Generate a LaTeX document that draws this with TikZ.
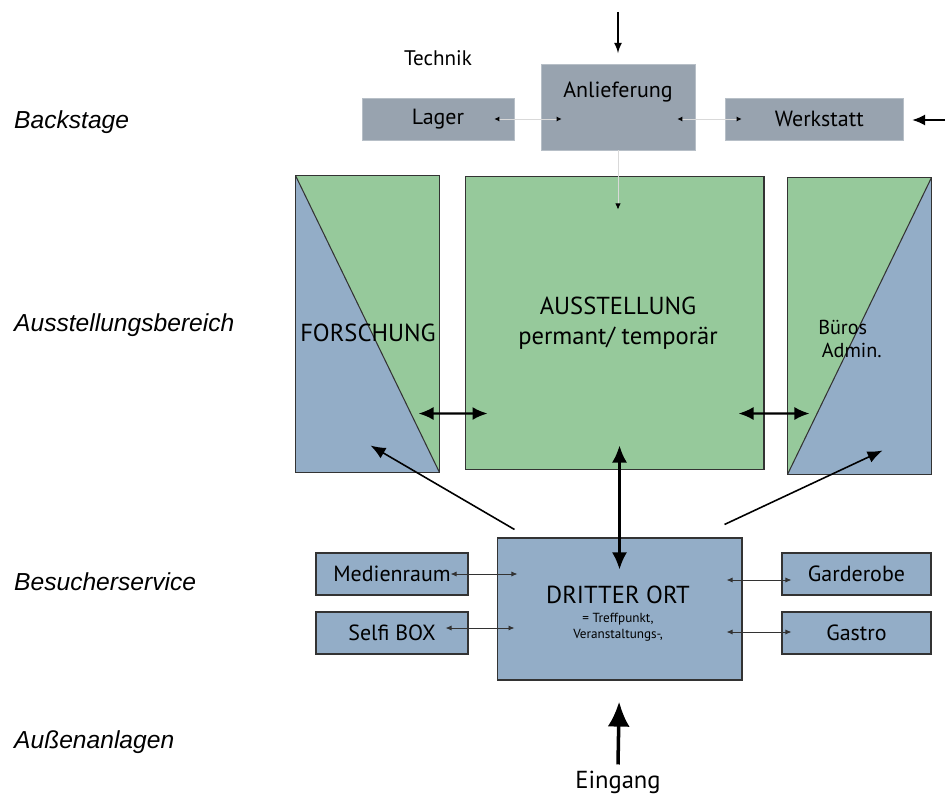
\documentclass[tikz,border=0pt]{standalone}
\usepackage{fontspec}
\setmainfont{PT Sans}
\newfontfamily\labelfont{Liberation Sans}
\usetikzlibrary{arrows.meta,positioning}
\tikzset{>=latex}

\definecolor{roomgreen}{HTML}{96C99B}
\definecolor{roomblue}{HTML}{93ADC7}
\definecolor{backgrey}{HTML}{98A3AF}

\tikzset{
    zone/.style={font=\labelfont\itshape\fontsize{14}{16}\selectfont, anchor=west},
    greybox/.style={draw=backgrey!70!white, fill=backgrey, line width=0.4pt,
        minimum height=0.84cm, font=\fontsize{12.5}{14}\selectfont},
    bluebox/.style={draw=black!80, fill=roomblue, line width=0.6pt,
        minimum height=0.84cm, font=\fontsize{12.5}{14}\selectfont},
    room/.style={draw=black!80, line width=0.6pt, minimum width=2.86cm, minimum height=5.92cm},
    thinlink/.style={black!15, line width=0.5pt, {Latex[length=1mm,width=1mm,black]}-{Latex[length=1mm,width=1mm,black]}},
    visitlink/.style={black!80, line width=0.5pt, {Latex[length=1.2mm,width=1mm]}-{Latex[length=1.2mm,width=1mm]}},
    roomlink/.style={black, line width=1.2pt, {Latex[length=3mm,width=2.6mm]}-{Latex[length=3mm,width=2.6mm]}},
}

\begin{document}
\begin{tikzpicture}[x=0.02cm, y=-0.02cm]
    \useasboundingbox (0,0) rectangle (947,797);

    % zones
    \node[zone] (zback) at (8,122) {Backstage};
    \node[zone] (zaus) at (8,325) {Ausstellungsbereich};
    \node[zone] (zbes) at (8,582) {Besucherservice};
    \node[zone] (zaus2) at (8,742) {Außenanlagen};

    % backstage
    \node[font=\fontsize{12}{14}\selectfont] (tech) at (438,58) {Technik};
    \node[greybox, minimum width=3.08cm, minimum height=1.72cm] (anl) at (618,107) {};
    \node[font=\fontsize{12.5}{14}\selectfont] (anltxt) at (618,92) {Anlieferung};
    \node[greybox, minimum width=3.04cm] (lag) at (438,119) {Lager};
    \node[greybox, minimum width=3.56cm] (werk) at (814,119) {\hspace{6pt}Werkstatt};

    \coordinate (liefer) at (618,12);
    \coordinate (werkin) at (945,120);
    \draw[->, line width=1pt, shorten >=6pt] (liefer) -- (anl.north);
    \draw[line width=1pt, -{Latex[length=2.6mm,width=2.2mm]}, shorten >=5pt] (werkin) -- (werk.east |- werkin);

    \draw[thinlink] ([xshift=-0.4cm]lag.east) -- ([xshift=0.42cm]anl.west |- lag.east);
    \draw[thinlink] ([xshift=-0.36cm]anl.east |- werk.west) -- ([xshift=0.34cm]werk.west);

    % ausstellungsbereich
    \node[room, fill=roomgreen, minimum width=5.98cm, minimum height=5.88cm] (aus) at (614.5,323) {};
    \node[font=\fontsize{14}{17}\selectfont, align=center] (austxt) at (618,323)
        {AUSSTELLUNG\\permant/ temporär};

    \node[room] (fo) at (367.5,324) {};
    \fill[roomgreen] (fo.north west) -- (fo.north east) -- (fo.south east) -- cycle;
    \fill[roomblue] (fo.north west) -- (fo.south west) -- (fo.south east) -- cycle;
    \draw[black!80, line width=0.6pt] (fo.north west) rectangle (fo.south east);
    \draw[black!80, line width=0.6pt] (fo.north west) -- (fo.south east);
    \node[font=\fontsize{14}{17}\selectfont] (fotxt) at (368,333) {FORSCHUNG};

    \node[room] (bu) at (859.5,326) {};
    \fill[roomgreen] (bu.north west) -- (bu.north east) -- (bu.south west) -- cycle;
    \fill[roomblue] (bu.north east) -- (bu.south east) -- (bu.south west) -- cycle;
    \draw[black!80, line width=0.6pt] (bu.north west) rectangle (bu.south east);
    \draw[black!80, line width=0.6pt] (bu.north east) -- (bu.south west);
    \node[font=\fontsize{11.5}{13.5}\selectfont, align=left] (butxt) at (850,339) {Büros\\\hspace{2pt}Admin.};

    \draw[thinlink, -{Latex[length=1.2mm,width=1.1mm,black]}] (anl.south) -- ([yshift=-0.68cm]anl.south |- aus.north);

    % besucherservice
    \node[bluebox, minimum width=4.9cm, minimum height=2.84cm] (dri) at (619.5,609) {};
    \node[font=\fontsize{14}{16}\selectfont] (dritxt) at (618,595) {DRITTER ORT};
    \node[font=\fontsize{7.5}{9}\selectfont, align=center] (dritxt2) at (618,627)
        {= Treffpunkt,\\Veranstaltungs-,};

    \node[bluebox, minimum width=3.04cm] (med) at (392,574) {Medienraum};
    \node[bluebox, minimum width=3.04cm] (sel) at (392,633) {Selfi BOX};
    \node[bluebox, minimum width=2.98cm] (gard) at (856.5,574) {Garderobe};
    \node[bluebox, minimum width=2.98cm] (gas) at (856.5,633) {Gastro};

    \draw[visitlink] ([xshift=-0.36cm]med.east) -- ([xshift=0.42cm]dri.west |- med.east);
    \draw[visitlink] ([xshift=-0.46cm]sel.east |- 0,628) -- ([xshift=0.36cm]dri.west |- 0,628);
    \draw[visitlink] ([xshift=-0.32cm]dri.east |- 0,580) -- ([xshift=0.2cm]gard.west |- 0,580);
    \draw[visitlink] ([xshift=-0.32cm]dri.east |- 0,632) -- ([xshift=0.2cm]gas.west |- 0,632);

    % wege zwischen den bereichen
    \draw[roomlink] ([xshift=-0.42cm,yshift=1.18cm]fo.south east) -- ([xshift=0.46cm,yshift=1.14cm]aus.south west);
    \draw[roomlink] ([xshift=-0.52cm,yshift=1.14cm]aus.south east) -- ([xshift=0.44cm,yshift=1.22cm]bu.south west);
    \draw[roomlink, line width=1.4pt, {Latex[length=3.4mm,width=3mm]}-{Latex[length=3.4mm,width=3mm]}]
        ([yshift=0.5cm]aus.south -| dri.north) -- ([yshift=-0.64cm]dri.north);
    \draw[line width=0.9pt, {Latex[length=3mm,width=2.4mm]}-]
        ([xshift=-1.38cm,yshift=0.54cm]fo.south east) -- ([xshift=0.36cm,yshift=0.16cm]dri.north west);
    \draw[line width=0.9pt, -{Latex[length=3mm,width=2.4mm]}]
        ([xshift=-0.36cm,yshift=0.26cm]dri.north east) -- ([xshift=-0.98cm,yshift=0.48cm]bu.south east);

    % aussenanlagen
    \node[font=\fontsize{14}{16}\selectfont] (ein) at (618,782) {Eingang};
    \draw[line width=2pt, -{Latex[length=5mm,width=4.4mm]}, shorten >=12pt] (ein.north) -- (dri.south);
\end{tikzpicture}
\end{document}
